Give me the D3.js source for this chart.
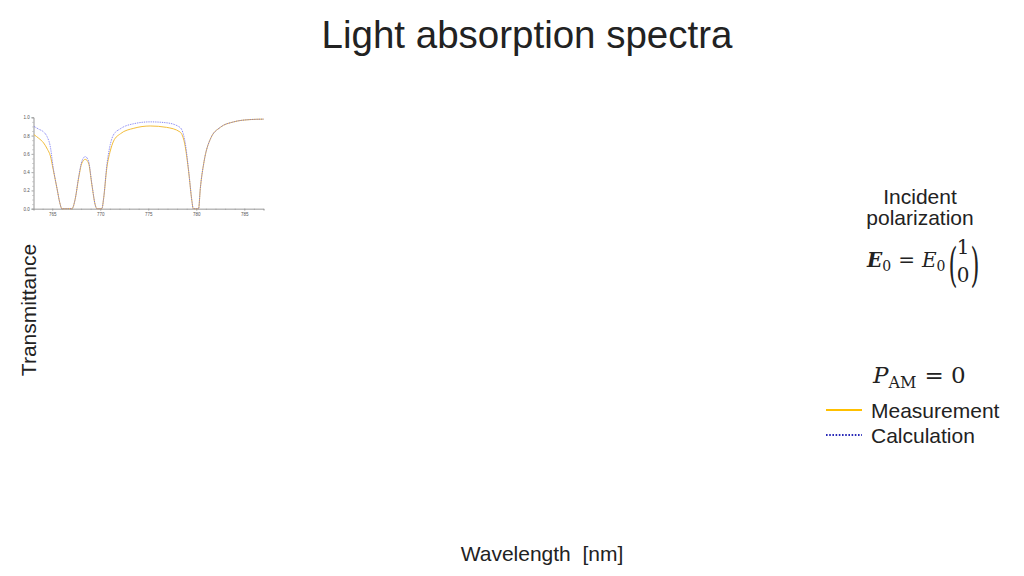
<!DOCTYPE html>
<html>
<head>
<meta charset="utf-8">
<script src="https://cdn.jsdelivr.net/npm/d3@7"></script>
<style>
  html, body { margin: 0; padding: 0; background: #fff; }
  svg { display: block; }
  .lbl { font-family: "Liberation Sans", Arial, sans-serif; fill: #222; }
  .math { font-family: "DejaVu Serif", "Liberation Serif", serif; fill: #222; }
  .mini .tick text { font-family: "Liberation Sans", Arial, sans-serif; font-size: 4.5px; fill: #555; }
  .mini path.domain, .mini .tick line { stroke: #999; stroke-width: 0.6; }
</style>
</head>
<body>
<svg id="chart" width="1024" height="576"></svg>
<script>
// --- data ---
const measWl  = [763.1, 763.6, 764.1, 764.5, 764.8, 765.1, 765.5, 765.8, 766.0, 767.05, 767.4, 767.74, 768.09, 768.44, 768.78, 769.13, 769.48, 769.65, 770.17, 770.35, 770.69, 771.04, 771.39, 772.1, 773.5, 775.2, 776.9, 778.3, 778.85, 779.2, 779.55, 779.68, 780.24, 780.42, 780.8, 781.5, 782.5, 783.9, 785.6, 787.0];
const measT   = [0.81, 0.77, 0.72, 0.65, 0.58, 0.43, 0.22, 0.06, 0.0, 0.0, 0.11, 0.33, 0.50, 0.54, 0.50, 0.26, 0.04, 0.0, 0.0, 0.11, 0.45, 0.63, 0.74, 0.82, 0.88, 0.905, 0.89, 0.84, 0.68, 0.41, 0.08, 0.0, 0.0, 0.22, 0.51, 0.77, 0.89, 0.95, 0.975, 0.98];

const calcWl  = [763.1, 763.6, 764.1, 764.5, 764.8, 765.1, 765.5, 765.8, 766.0, 767.05, 767.4, 767.74, 768.09, 768.44, 768.78, 769.13, 769.48, 769.65, 770.17, 770.35, 770.69, 771.04, 771.39, 772.1, 773.5, 775.2, 776.9, 778.3, 778.85, 779.2, 779.55, 779.68, 780.24, 780.42, 780.8, 781.5, 782.5, 783.9, 785.6, 787.0];
const calcT   = [0.90, 0.87, 0.84, 0.78, 0.68, 0.45, 0.22, 0.06, 0.0, 0.0, 0.11, 0.34, 0.52, 0.57, 0.52, 0.27, 0.04, 0.0, 0.0, 0.11, 0.48, 0.70, 0.81, 0.875, 0.93, 0.95, 0.94, 0.89, 0.72, 0.42, 0.08, 0.0, 0.0, 0.22, 0.51, 0.77, 0.89, 0.95, 0.975, 0.98];

const xTicks = [765, 770, 775, 780, 785];
const yTicks = [0.0, 0.2, 0.4, 0.6, 0.8, 1.0];

const svg = d3.select("#chart");

// title and outer labels
svg.append("text").attr("class", "lbl").attr("x", 527).attr("y", 47.5)
  .attr("text-anchor", "middle").attr("font-size", 38.5).text("Light absorption spectra");
svg.append("text").attr("class", "lbl").attr("transform", "translate(36,310) rotate(-90)")
  .attr("text-anchor", "middle").attr("font-size", 21).text("Transmittance");
svg.append("text").attr("class", "lbl").attr("x", 542).attr("y", 561)
  .attr("text-anchor", "middle").attr("font-size", 21).attr("xml:space", "preserve").text("Wavelength  [nm]");

// --- small spectrum plot ---
const x = d3.scaleLinear().domain([763.05, 787.0]).range([33.5, 263.5]);
const y = d3.scaleLinear().domain([0, 1]).range([208.7, 117.3]);

const mini = svg.append("g").attr("class", "mini");

mini.append("g").attr("transform", `translate(0,${y(0)})`)
  .call(d3.axisBottom(x).tickValues(d3.range(764, 788, 1)).tickSize(1.2).tickFormat(""));
mini.append("g").attr("transform", `translate(0,${y(0)})`)
  .call(d3.axisBottom(x).tickValues(xTicks).tickSize(2.2).tickPadding(1.5).tickFormat(d3.format("d")));
mini.append("g").attr("transform", `translate(${x.range()[0]},0)`)
  .call(d3.axisLeft(y).tickValues(d3.range(0, 1.001, 0.05)).tickSize(1.2).tickFormat(""));
mini.append("g").attr("transform", `translate(${x.range()[0]},0)`)
  .call(d3.axisLeft(y).tickValues(yTicks).tickSize(2.2).tickPadding(1.5).tickFormat(d3.format(".1f")));

const line = d3.line().curve(d3.curveMonotoneX);

mini.append("path")
  .attr("d", line(measWl.map((w, i) => [x(w), y(measT[i])])))
  .attr("fill", "none").attr("stroke", "#f2bd3c").attr("stroke-width", 1);
mini.append("path")
  .attr("d", line(calcWl.map((w, i) => [x(w), y(calcT[i])])))
  .attr("fill", "none").attr("stroke", "#6c6cf0").attr("stroke-width", 0.9)
  .attr("stroke-dasharray", "0.9,0.9");

// --- right-hand annotation ---
const inc = svg.append("text").attr("class", "lbl").attr("text-anchor", "middle").attr("font-size", 21);
inc.append("tspan").attr("x", 920).attr("y", 204).text("Incident");
inc.append("tspan").attr("x", 920).attr("y", 225).text("polarization");

const eq = svg.append("g").attr("class", "math").attr("font-size", 20);
const t1 = eq.append("text").attr("x", 867).attr("y", 267);
t1.append("tspan").attr("font-weight", "bold").attr("font-style", "italic").text("E");
t1.append("tspan").attr("font-size", 14).attr("dy", 4).text("0");
t1.append("tspan").attr("dy", -4).attr("dx", 7).text("=");
t1.append("tspan").attr("dx", 7).attr("font-style", "italic").text("E");
t1.append("tspan").attr("font-size", 14).attr("dy", 4).text("0");
eq.append("text").attr("x", 948.5).attr("y", 281).attr("font-size", 46).attr("font-weight", 200)
  .attr("transform", "translate(948.5,0) scale(0.5,1) translate(-948.5,0)").text("(");
eq.append("text").attr("x", 970.5).attr("y", 281).attr("font-size", 46).attr("font-weight", 200)
  .attr("transform", "translate(970.5,0) scale(0.5,1) translate(-970.5,0)").text(")");
eq.append("text").attr("x", 963).attr("y", 254).attr("text-anchor", "middle").text("1");
eq.append("text").attr("x", 963).attr("y", 282).attr("text-anchor", "middle").text("0");

const pam = svg.append("text").attr("class", "math").attr("x", 873).attr("y", 383).attr("font-size", 23);
pam.append("tspan").attr("font-style", "italic").text("P");
pam.append("tspan").attr("font-size", 16).attr("dy", 5).text("AM");
pam.append("tspan").attr("dy", -5).attr("dx", 8).text("= 0");

// legend
const legend = [
  { name: "Measurement", color: "#ffc000", dash: null, width: 2.2 },
  { name: "Calculation", color: "#2a2ab8", dash: "1.6,1.6", width: 1.8 }
];
const lg = svg.append("g").selectAll("g").data(legend).join("g")
  .attr("transform", (d, i) => `translate(826,${410 + i * 25})`);
lg.append("line").attr("x1", 0).attr("x2", 36)
  .attr("stroke", d => d.color).attr("stroke-width", d => d.width)
  .attr("stroke-dasharray", d => d.dash);
lg.append("text").attr("class", "lbl").attr("x", 45).attr("y", 7.5)
  .attr("font-size", 21).text(d => d.name);
</script>
</body>
</html>
